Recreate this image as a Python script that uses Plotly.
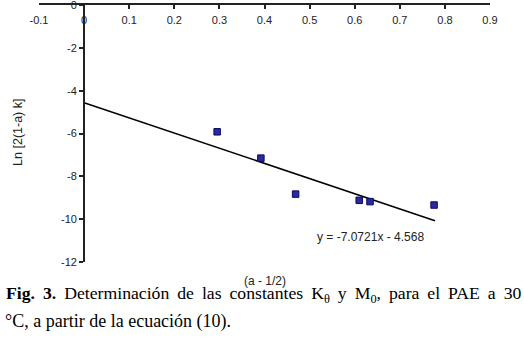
import plotly.graph_objects as go

# Data
x_vals = [0.295, 0.392, 0.469, 0.610, 0.634, 0.776]
y_vals = [-5.92, -7.15, -8.83, -9.12, -9.18, -9.34]
slope = -7.0721
intercept = -4.568
trend_x = [0.0, 0.778]
trend_y = [intercept + slope * v for v in trend_x]
x_ticks = [-0.1, 0, 0.1, 0.2, 0.3, 0.4, 0.5, 0.6, 0.7, 0.8, 0.9]
y_ticks = [0, -2, -4, -6, -8, -10, -12]

W, H = 524, 346
L, R, T, B = 38.5, 34, 4.5, 84.3
pw, ph = W - L - R, H - T - B

def px(xp):
    return (xp - L) / pw

def py(yp):
    return (H - B - yp) / ph

SP = " \u2009"
line1 = ("<b>Fig." + SP + "3.</b>" + SP + "Determinación" + SP + "de" + SP + "las" + SP +
         "constantes" + SP + "K<sub>θ</sub>" + SP + "y" + SP + "M<sub>0</sub>," + SP +
         "para" + SP + "el" + SP + "PAE" + SP + "a" + SP + "30")
line2 = "°C, a partir de la ecuación (10)."

fig = go.Figure()
fig.add_trace(go.Scatter(x=trend_x, y=trend_y, mode="lines",
                         line=dict(color="black", width=1.5), showlegend=False))
fig.add_trace(go.Scatter(x=x_vals, y=y_vals, mode="markers",
                         marker=dict(symbol="square", size=6.5, color="#2a2aa0",
                                     line=dict(color="#0a0a60", width=1)),
                         showlegend=False))

axfont = dict(family="Liberation Sans, Arial", size=11, color="#222")
lblfont = dict(family="Liberation Sans, Arial", size=12, color="#222")
fig.update_layout(
    width=W, height=H,
    margin=dict(l=L, r=R, t=T, b=B, pad=0, autoexpand=False),
    paper_bgcolor="white", plot_bgcolor="white",
    xaxis=dict(range=[-0.1, 0.9], side="top", tickvals=x_ticks,
               ticktext=[("%g" % v) for v in x_ticks],
               ticklabelposition="inside", ticklabeloverflow="allow",
               ticklabelstandoff=7,
               ticks="inside", ticklen=4, automargin=False,
               tickwidth=1.5, tickcolor="#222",
               showline=True, linecolor="#222", linewidth=1.5,
               showgrid=False, zeroline=False, tickfont=axfont),
    yaxis=dict(range=[-12, 0], anchor="free", position=0.1, tickvals=y_ticks,
               ticktext=[("%g" % v) for v in y_ticks], automargin=False,
               ticklabeloverflow="allow",
               ticks="outside", ticklen=4, tickwidth=1.5, tickcolor="#222",
               showline=True, linecolor="#222", linewidth=2,
               showgrid=False, zeroline=False, tickfont=axfont),
    annotations=[
        dict(x=0.636, y=-10.85, xref="x", yref="y", text="y = -7.0721x - 4.568",
             xanchor="center", yanchor="middle", showarrow=False, font=lblfont),
        dict(x=px(265), y=py(280.5), xref="paper", yref="paper", text="(a - 1/2)",
             xanchor="center", yanchor="middle", showarrow=False, font=lblfont),
        dict(x=px(18), y=py(132), xref="paper", yref="paper", text="Ln [2(1-a) k]",
             xanchor="center", yanchor="middle", textangle=-90, showarrow=False,
             font=dict(family="Liberation Sans, Arial", size=12.5, color="#222")),
        dict(x=px(3), y=py(294), xref="paper", yref="paper", xanchor="left", yanchor="middle",
             text=line1, showarrow=False,
             font=dict(family="Liberation Serif, Times New Roman", size=17.7, color="black")),
        dict(x=px(2), y=py(321), xref="paper", yref="paper", xanchor="left", yanchor="middle",
             text=line2, showarrow=False,
             font=dict(family="Liberation Serif, Times New Roman", size=18, color="black")),
    ],
)

fig.write_html("out.html", config={"displayModeBar": False},
               post_script="document.body.style.margin='0';")
